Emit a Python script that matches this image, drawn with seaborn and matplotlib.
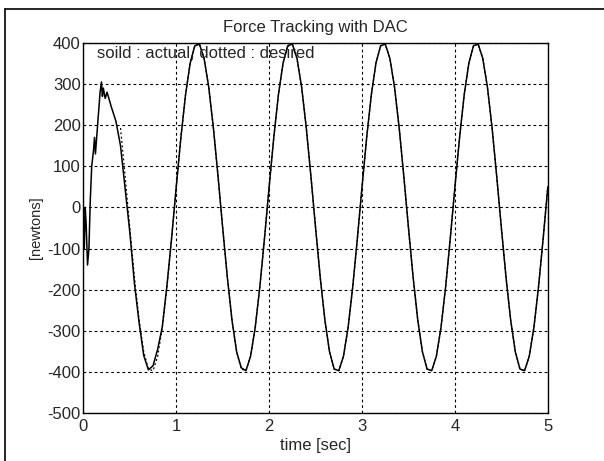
import seaborn as sns
import matplotlib.pyplot as plt
import pandas as pd
from matplotlib.lines import Line2D

# Values
# actual force: start-up transient, then tracking
t_actual = [0.000, 0.010, 0.020, 0.030, 0.045, 0.060, 0.075, 0.090, 0.110, 0.120,
            0.130, 0.140, 0.160, 0.180, 0.195, 0.205, 0.215, 0.235, 0.255, 0.275,
            0.30, 0.35, 0.40, 0.45, 0.50, 0.55, 0.60, 0.65, 0.70, 0.75,
            0.80, 0.85, 0.90, 0.95, 1.00, 1.05, 1.10, 1.15, 1.20, 1.25,
            1.30, 1.35, 1.40, 1.45, 1.50, 1.55, 1.60, 1.65, 1.70, 1.75,
            1.80, 1.85, 1.90, 1.95, 2.00, 2.05, 2.10, 2.15, 2.20, 2.25,
            2.30, 2.35, 2.40, 2.45, 2.50, 2.55, 2.60, 2.65, 2.70, 2.75,
            2.80, 2.85, 2.90, 2.95, 3.00, 3.05, 3.10, 3.15, 3.20, 3.25,
            3.30, 3.35, 3.40, 3.45, 3.50, 3.55, 3.60, 3.65, 3.70, 3.75,
            3.80, 3.85, 3.90, 3.95, 4.00, 4.05, 4.10, 4.15, 4.20, 4.25,
            4.30, 4.35, 4.40, 4.45, 4.50, 4.55, 4.60, 4.65, 4.70, 4.75,
            4.80, 4.85, 4.90, 4.95, 5.00]
f_actual = [-20, -100, 0, -40, -140, -100, 20, 100, 140, 170,
            130, 160, 220, 280, 305, 270, 290, 265, 280, 265,
            245, 210, 150, 45, -60, -185, -280, -360, -395, -385,
            -345, -290, -190, -75, 50, 170, 274, 351, 393, 397,
            362, 292, 193, 75, -50, -170, -274, -351, -390, -397,
            -362, -292, -193, -75, 50, 170, 274, 351, 393, 397,
            362, 292, 193, 75, -50, -170, -274, -351, -393, -397,
            -362, -292, -193, -75, 50, 170, 274, 351, 393, 397,
            362, 292, 193, 75, -50, -170, -274, -351, -393, -397,
            -362, -292, -193, -75, 50, 170, 274, 351, 393, 397,
            362, 292, 193, 75, -50, -170, -274, -351, -393, -397,
            -362, -292, -193, -75, 50]

# desired force (dotted), hidden under the actual trace once it tracks
t_desired = [0.40, 0.45,
             0.50, 0.55, 0.60, 0.65, 0.70, 0.75, 0.80, 0.85, 0.90, 0.95,
             1.00, 1.05, 1.10, 1.15, 1.20, 1.25, 1.30, 1.35, 1.40, 1.45,
             1.50, 1.55, 1.60, 1.65, 1.70, 1.75, 1.80, 1.85, 1.90, 1.95,
             2.00, 2.05, 2.10, 2.15, 2.20, 2.25, 2.30, 2.35, 2.40, 2.45,
             2.50, 2.55, 2.60, 2.65, 2.70, 2.75, 2.80, 2.85, 2.90, 2.95,
             3.00, 3.05, 3.10, 3.15, 3.20, 3.25, 3.30, 3.35, 3.40, 3.45,
             3.50, 3.55, 3.60, 3.65, 3.70, 3.75, 3.80, 3.85, 3.90, 3.95,
             4.00, 4.05, 4.10, 4.15, 4.20, 4.25, 4.30, 4.35, 4.40, 4.45,
             4.50, 4.55, 4.60, 4.65, 4.70, 4.75, 4.80, 4.85, 4.90, 4.95, 5.00]
f_desired = [193, 75,
             -50, -170, -274, -351, -393, -397, -362, -292, -193, -75,
             50, 170, 274, 351, 393, 397, 362, 292, 193, 75,
             -50, -170, -274, -351, -393, -397, -362, -292, -193, -75,
             50, 170, 274, 351, 393, 397, 362, 292, 193, 75,
             -50, -170, -274, -351, -393, -397, -362, -292, -193, -75,
             50, 170, 274, 351, 393, 397, 362, 292, 193, 75,
             -50, -170, -274, -351, -393, -397, -362, -292, -193, -75,
             50, 170, 274, 351, 393, 397, 362, 292, 193, 75,
             -50, -170, -274, -351, -393, -397, -362, -292, -193, -75, 50]

x_ticks = [0, 1, 2, 3, 4, 5]
y_ticks = [-500, -400, -300, -200, -100, 0, 100, 200, 300, 400]

df_actual = pd.DataFrame({'time': t_actual, 'force': f_actual})
df_desired = pd.DataFrame({'time': t_desired, 'force': f_desired})

sns.set_style('white')
plt.rcParams['font.family'] = ['Liberation Sans', 'DejaVu Sans']
plt.rcParams['axes.unicode_minus'] = False
plt.rcParams['xtick.direction'] = 'in'
plt.rcParams['ytick.direction'] = 'in'

fig = plt.figure(figsize=(6.04, 4.61), dpi=100)
ax = fig.add_axes([0.138, 0.104, 0.769, 0.803])

sns.lineplot(data=df_desired, x='time', y='force', ax=ax, color='black',
             linewidth=0.9, linestyle=(0, (1.5, 2)), sort=False)
sns.lineplot(data=df_actual, x='time', y='force', ax=ax, color='black',
             linewidth=1.1, sort=False)

ax.set_xlim(0, 5)
ax.set_ylim(-500, 400)
ax.set_xticks(x_ticks)
ax.set_yticks(y_ticks)
ax.tick_params(labelsize=12, length=3, color='black')
ax.tick_params(axis='x', pad=4)
ax.tick_params(axis='y', pad=2)
ax.grid(True, color='black', linestyle=(0, (2.5, 2.5)), linewidth=0.8)
for s in ax.spines.values():
    s.set_color('black')
    s.set_linewidth(1.0)

ax.set_title('Force Tracking with DAC', fontsize=12, pad=8)
ax.set_xlabel('time [sec]', fontsize=12, labelpad=3)
ax.set_ylabel('[newtons]', fontsize=10.5, labelpad=3)
ax.text(0.147, 373, 'soild : actual, dotted : desired', fontsize=12, va='center')

# scan frame lines (left and top)
fig.add_artist(Line2D([0.008, 0.008], [0.0, 0.981], transform=fig.transFigure,
                      color='black', linewidth=1.2))
fig.add_artist(Line2D([0.008, 1.0], [0.981, 0.981], transform=fig.transFigure,
                      color='black', linewidth=1.2))

fig.savefig('out.png', dpi=100)
